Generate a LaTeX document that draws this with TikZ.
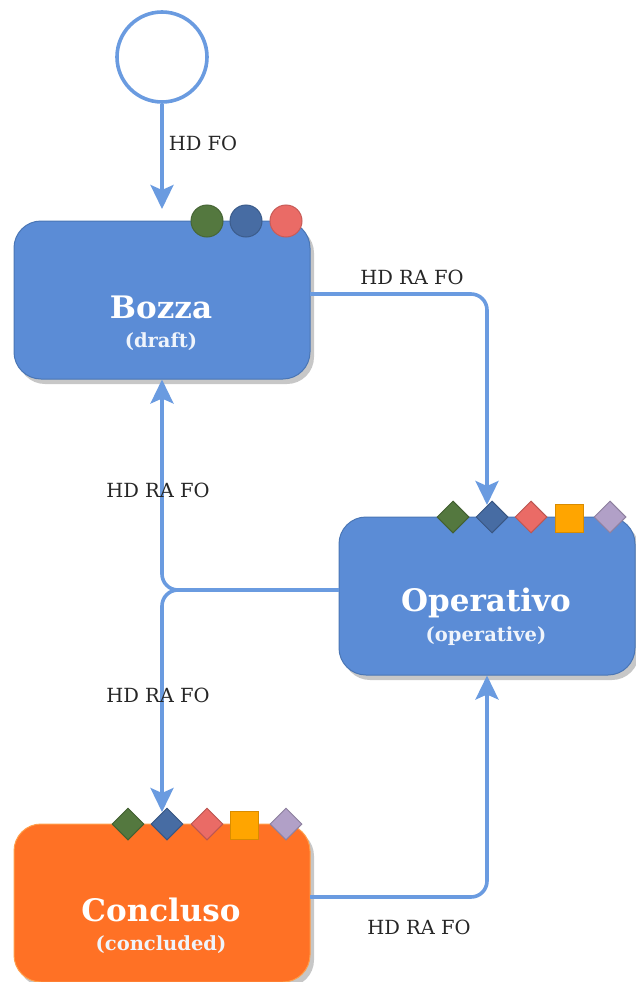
\documentclass[tikz,border=0pt]{standalone}
\usepackage{fontspec}
\setmainfont{DejaVu Serif}
\usetikzlibrary{arrows.meta,shadows,shapes.geometric}
\definecolor{edgeblue}{HTML}{6A9BE0}
\definecolor{boxblue}{HTML}{5B8CD6}
\definecolor{boxblueline}{HTML}{4A76B5}
\definecolor{boxorange}{HTML}{FF7125}
\definecolor{boxorangeline}{HTML}{FF9E4A}
\definecolor{dgreen}{HTML}{54783F}
\definecolor{dblue}{HTML}{476CA3}
\definecolor{dred}{HTML}{EA6B66}
\definecolor{dorange}{HTML}{FFA500}
\definecolor{dpurple}{HTML}{B1A0C7}
\tikzset{
  statebox/.style={draw=boxblueline,fill=boxblue,line width=1pt,rounded corners=27pt,minimum width=296pt,minimum height=158pt,inner sep=0pt,
    drop shadow={shadow xshift=4pt,shadow yshift=-5pt,fill=black!22,opacity=1}},
  donebox/.style={statebox,draw=boxorangeline,fill=boxorange},
  boxtext/.style={text=white,align=center,inner sep=0pt,font=\bfseries\fontsize{31}{35}\selectfont},
  subtext/.style={text=white!90!boxblue,inner sep=0pt,font=\bfseries\fontsize{19.5}{22}\selectfont},
  flow/.style={draw=edgeblue,line width=3.6pt,rounded corners=16pt,-{Stealth[length=24pt,width=23pt,inset=5pt]}},
  flowlabel/.style={inner sep=0pt,text=black!85,font=\fontsize{19.5}{22}\selectfont},
  dot/.style={circle,draw=#1!85!black,fill=#1,line width=1pt,minimum size=32pt,inner sep=0pt},
  dia/.style={diamond,aspect=1,draw=#1!80!black,fill=#1,line width=1pt,minimum size=32pt,inner sep=0pt},
  sq/.style={rectangle,draw=#1!85!black,fill=#1,line width=1pt,minimum size=28pt,inner sep=0pt},
}
\begin{document}
\begin{tikzpicture}[x=1pt,y=-1pt]
\useasboundingbox (0,0) rectangle (636,982);
\node[circle,draw=edgeblue,fill=white,line width=3.6pt,minimum size=90pt,inner sep=0pt] (start) at (162,57) {};
\node[statebox] (bozza) at (162,300) {};
\node[statebox] (operativo) at (487,596) {};
\node[donebox] (concluso) at (162,903) {};
\node[boxtext] (tbozza) at (161,307) {Bozza};
\node[subtext] (sbozza) at (161,341.5) {(draft)};
\node[boxtext] (toperativo) at (486,603) {Operativo};
\node[subtext] (soperativo) at (486,636.5) {(operative)};
\node[boxtext] (tconcluso) at (161,910) {Concluso};
\node[subtext] (sconcluso) at (161,944.5) {(concluded)};
\coordinate (bozzaOut) at (310,294);
\coordinate (bozzaTop) at (162,209);
\coordinate (operTop) at (487,505);
\coordinate (operOut) at (339,590);
\coordinate (conclTop) at (162,812);
\coordinate (conclOut) at (310,897);
\draw[flow] (start.south) -- (bozzaTop);
\draw[flow] (bozzaOut) -| (operTop);
\draw[flow] (operOut) -| (bozza.south);
\draw[flow] (operOut) -| (conclTop);
\draw[flow] (conclOut) -| (operativo.south);
\node[flowlabel] (l1) at (203,143) {HD FO};
\node[flowlabel] (l2) at (412,277) {HD RA FO};
\node[flowlabel] (l3) at (158,490) {HD RA FO};
\node[flowlabel] (l4) at (158,695) {HD RA FO};
\node[flowlabel] (l5) at (419,927) {HD RA FO};
\node[dot=dgreen] (b1) at (207,221) {};
\node[dot=dblue] (b2) at (246,221) {};
\node[dot=dred] (b3) at (286,221) {};
\node[dia=dgreen] (o1) at (453,517) {};
\node[dia=dblue] (o2) at (492,517) {};
\node[dia=dred] (o3) at (531,517) {};
\node[sq=dorange] (o4) at (569,518.5) {};
\node[dia=dpurple] (o5) at (610,517) {};
\node[dia=dgreen] (c1) at (128,824) {};
\node[dia=dblue] (c2) at (167,824) {};
\node[dia=dred] (c3) at (207,824) {};
\node[sq=dorange] (c4) at (244,825.5) {};
\node[dia=dpurple] (c5) at (286,824) {};
\end{tikzpicture}
\end{document}
